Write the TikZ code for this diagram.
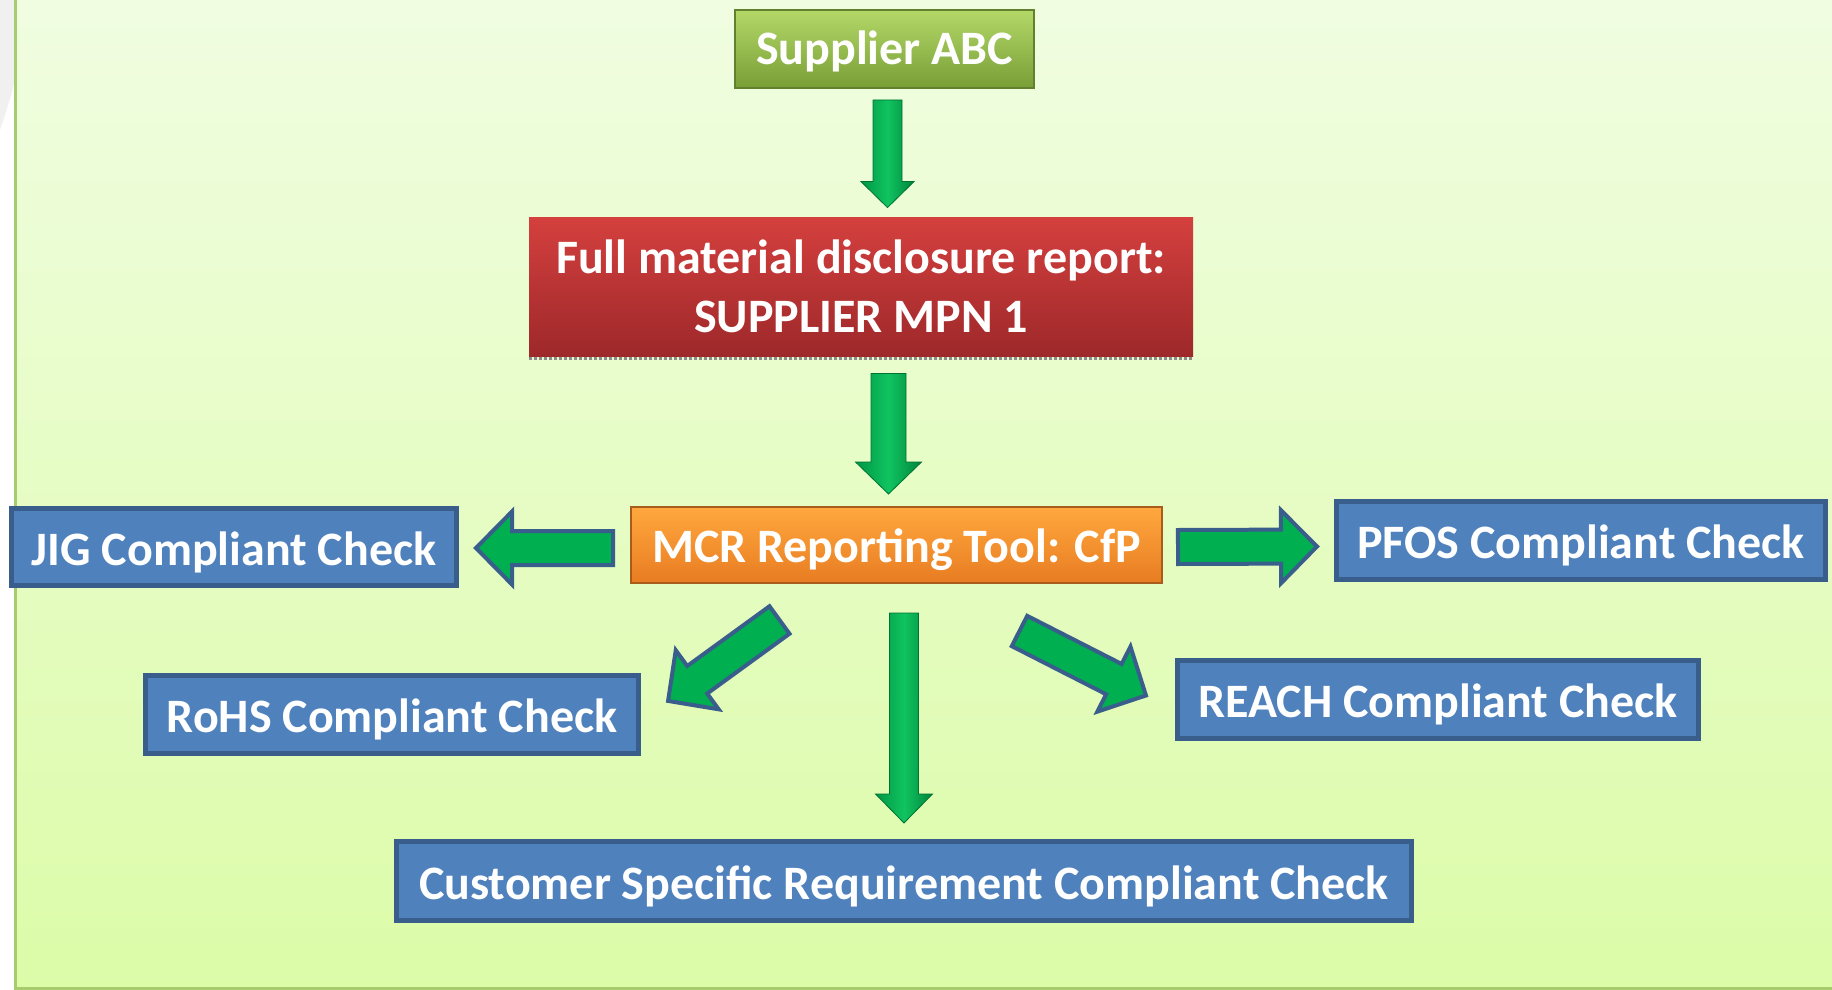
\documentclass[tikz,border=0pt]{standalone}
\usepackage{fontspec}
\setmainfont{Carlito}
\usetikzlibrary{calc}
\definecolor{pnltop}{RGB}{240,253,225}
\definecolor{pnlbot}{RGB}{220,252,168}
\definecolor{pnledge}{RGB}{166,204,110}
\definecolor{chkblue}{RGB}{79,129,189}
\definecolor{chkedge}{RGB}{58,94,140}
\definecolor{arrgreen}{RGB}{0,176,80}
\definecolor{arrlite}{RGB}{16,196,96}
\definecolor{suptop}{RGB}{180,216,104}
\definecolor{supbot}{RGB}{120,158,54}
\definecolor{supedge}{RGB}{98,128,46}
\definecolor{fmdtop}{RGB}{212,64,62}
\definecolor{fmdbot}{RGB}{158,40,42}
\definecolor{mcrtop}{RGB}{255,168,62}
\definecolor{mcrbot}{RGB}{232,124,34}
\definecolor{mcredge}{RGB}{168,92,28}

% block arrow from #2 to #3: shaft width #4, head width #5, head length #6 (px)
\newcommand{\blockarrow}[6][outarrow]{%
  \path let \p1=#2, \p2=#3, \n1={atan2(\y2-\y1,\x2-\x1)},
      \n2={veclen(\x2-\x1,\y2-\y1)} in
    \pgfextra{\pgfmathparse{\n1}\xdef\arrang{\pgfmathresult}%
      \pgfmathparse{\n2}\xdef\arrlen{\pgfmathresult}};
  \path[#1, shift={#2}, rotate=\arrang]
    (0,{#4/2}) -- ({2*\arrlen-#6},{#4/2}) -- ({2*\arrlen-#6},{#5/2})
    -- ({2*\arrlen},0) -- ({2*\arrlen-#6},{-#5/2})
    -- ({2*\arrlen-#6},{-#4/2}) -- (0,{-#4/2}) -- cycle;
}

\begin{document}
\begin{tikzpicture}[x=0.5pt, y=-0.5pt,
    box/.style={text=white, inner sep=0pt, align=center,
      font=\fontsize{24}{29.5}\selectfont\bfseries},
    oneline/.style={text height=18pt, text depth=0pt},
    chkbox/.style={box, oneline, draw=chkedge, fill=chkblue, line width=2.5pt},
    outarrow/.style={draw=chkedge, fill=arrgreen, line width=2pt, line join=miter},
    gradarrow/.style={draw=arrgreen!65!black, line width=0.4pt,
      left color=arrgreen!85!black, right color=arrgreen!75!black, middle color=arrlite}]
\useasboundingbox (0,0) rectangle (1832,990);

% page and panel
\fill[white] (0,0) rectangle (1832,990);
\fill[black!6] (0,0) -- (15,0) -- (15,80) .. controls (10,100) and (5,115) .. (0,130) -- cycle;
\shade[top color=pnltop, bottom color=pnlbot] (15,0) rectangle (1832,988);
\draw[pnledge, line width=1.5pt] (15,0) -- (15,988) -- (1832,988);

% flow boxes
\node[box, oneline, text height=16pt, top color=suptop, bottom color=supbot, draw=supedge,
      line width=1pt, minimum width=149.5pt, minimum height=39pt] (sup) at (884.5,49) {Supplier ABC};
\node[box, top color=fmdtop, bottom color=fmdbot,
      minimum width=332pt, minimum height=69.5pt] (fmd) at (861,286.5)
      {Full material disclosure report:\\SUPPLIER MPN 1};
\draw[densely dotted, line width=1.5pt, black!45] ([yshift=-1pt]fmd.south west) -- ([yshift=-1pt]fmd.south east);
\node[box, oneline, text height=17pt, top color=mcrtop, bottom color=mcrbot, draw=mcredge,
      line width=1pt, minimum width=265.5pt, minimum height=38pt] (mcr) at (896.5,545) {MCR Reporting Tool: CfP};

% check boxes
\node[chkbox, minimum width=222.5pt, minimum height=38.5pt] (jig) at (234,547) {JIG Compliant Check};
\node[chkbox, minimum width=244.5pt, minimum height=39pt] (pfos) at (1581,540.5) {PFOS Compliant Check};
\node[chkbox, minimum width=246.5pt, minimum height=39pt] (rohs) at (392,714.5) {RoHS Compliant Check};
\node[chkbox, minimum width=260.5pt, minimum height=39pt] (reach) at (1438,699.5) {REACH Compliant Check};
\node[chkbox, minimum width=507.5pt, minimum height=39.5pt] (csr) at (904,881)
      {Customer Specific Requirement Compliant Check};

% arrows down the middle
\blockarrow[gradarrow]{($(sup.south)+(3,11)$)}{($(sup.south|-fmd.north)+(3,-9)$)}{29}{53}{26}
\blockarrow[gradarrow]{($(fmd.south-|mcr.north)+(-8,17)$)}{($(mcr.north)+(-8,-12)$)}{35}{66}{32}
\blockarrow[gradarrow]{($(mcr.south-|csr.north)+(0,29)$)}{($(csr.north)+(0,-16)$)}{29}{57}{29}

% arrows out to the checks
\blockarrow{($(mcr.west)+(-17,3)$)}{($(jig.east)+(17,1)$)}{34}{73}{36}
\blockarrow{($(mcr.east)+(15,2)$)}{($(pfos.west)+(-17,6)$)}{34}{73}{36}
\blockarrow{($(mcr.south)+(-117,36)$)}{($(rohs.north east)+(27,28)$)}{34}{73}{36}
\blockarrow{($(mcr.south)+(123,47)$)}{($(reach.west)+(-29,-4)$)}{34}{73}{36}
\end{tikzpicture}
\end{document}
